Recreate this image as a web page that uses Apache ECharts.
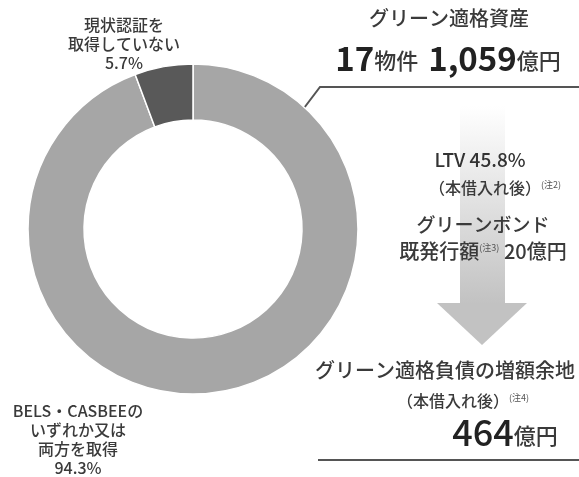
<!DOCTYPE html>
<html>
<head>
<meta charset="utf-8">
<script src="https://cdn.jsdelivr.net/npm/echarts@6/dist/echarts.min.js"></script>
<style>
  html, body { margin: 0; padding: 0; background: #fff; }
  #main { width: 579px; height: 477px; }
</style>
</head>
<body>
<div id="main"></div>
<script>
// donut data (share of green eligible assets)
var sliceNames = ['BELS・CASBEEの\nいずれか又は\n両方を取得', '現状認証を\n取得していない'];
var sliceValues = [94.3, 5.7];
var sliceColors = ['#a6a6a6', '#595959'];

// figures on the right
var propertyCount = 17;
var assetAmount = '1,059';
var ltv = 45.8;
var bondIssued = 20;
var debtHeadroom = 464;

var font = '"Noto Sans CJK JP", "Noto Sans", sans-serif';
var txt = '#3a3a3a';
var chart = echarts.init(document.getElementById('main'));

var pieData = sliceNames.map(function (n, i) {
  return { name: n, value: sliceValues[i], itemStyle: { color: sliceColors[i] } };
});

function note(str) {
  return '{s|' + str + '}';
}
var noteStyle = { fontSize: 9, fontFamily: font, fill: '#555', color: '#555', padding: [0, 0, 7, 0] };

var option = {
  backgroundColor: '#fff',
  animation: false,
  series: [{
    type: 'pie',
    center: [193, 229],
    radius: [109, 165],
    startAngle: 90,
    clockwise: true,
    itemStyle: { borderColor: '#fff', borderWidth: 1.5 },
    label: {
      show: true,
      position: 'outside',
      formatter: function (p) { return p.name + '\n' + p.value + '%'; },
      fontFamily: font,
      fontSize: 16,
      fontWeight: 500,
      lineHeight: 19,
      color: txt,
      align: 'center'
    },
    labelLine: { show: false },
    labelLayout: function (p) {
      if (p.dataIndex === 1) {
        return { x: 124, y: 44, align: 'center', verticalAlign: 'middle' };
      }
      return { x: 78, y: 439, align: 'center', verticalAlign: 'middle' };
    },
    data: pieData
  }],
  graphic: [
    // leader line from donut to the headline
    {
      type: 'polyline',
      shape: { points: [[298, 116], [320, 87], [579, 87]] },
      style: { stroke: '#555', lineWidth: 2, fill: null }
    },
    {
      type: 'text',
      style: {
        x: 449, y: 18, text: 'グリーン適格資産', align: 'center', verticalAlign: 'middle',
        font: '500 20px ' + font, fill: txt
      }
    },
    {
      type: 'text',
      style: {
        x: 448, y: 58, align: 'center', verticalAlign: 'middle',
        text: '{n|' + propertyCount + '}{u|物件}{g| }{n|' + assetAmount + '}{u|億円}',
        rich: {
          n: { fontSize: 33, fontWeight: 'bold', fontFamily: font, fill: '#222', color: '#222' },
          u: { fontSize: 22, fontWeight: 500, fontFamily: font, fill: txt, color: txt, padding: [6, 0, 0, 0] },
          g: { fontSize: 14, fontFamily: font, width: 10 }
        }
      }
    },
    // arrow shaft and head
    {
      type: 'rect',
      shape: { x: 460, y: 106, width: 45, height: 198 },
      style: {
        fill: new echarts.graphic.LinearGradient(0, 0, 0, 1, [
          { offset: 0, color: '#ffffff' },
          { offset: 1, color: '#c2c2c2' }
        ])
      }
    },
    {
      type: 'polygon',
      shape: { points: [[437, 303], [527, 303], [482, 345]] },
      style: { fill: '#c2c2c2' }
    },
    {
      type: 'text',
      style: {
        x: 480, y: 160, text: 'LTV ' + ltv + '%', align: 'center', verticalAlign: 'middle',
        font: '500 19px ' + font, fill: '#333'
      }
    },
    {
      type: 'text',
      style: {
        x: 495, y: 188, align: 'center', verticalAlign: 'middle',
        text: '{a|（本借入れ後）}' + note('(注2)'),
        rich: {
          a: { fontSize: 16, fontWeight: 500, fontFamily: font, fill: txt, color: txt },
          s: noteStyle
        }
      }
    },
    {
      type: 'text',
      style: {
        x: 483, y: 225, text: 'グリーンボンド', align: 'center', verticalAlign: 'middle',
        font: '500 19px ' + font, fill: txt
      }
    },
    {
      type: 'text',
      style: {
        x: 483, y: 251, align: 'center', verticalAlign: 'middle',
        text: '{a|既発行額}' + note('(注3)') + '{a| ' + bondIssued + '億円}',
        rich: {
          a: { fontSize: 20, fontWeight: 500, fontFamily: font, fill: txt, color: txt },
          s: noteStyle
        }
      }
    },
    {
      type: 'text',
      style: {
        x: 445, y: 370, text: 'グリーン適格負債の増額余地', align: 'center', verticalAlign: 'middle',
        font: '500 20px ' + font, fill: txt
      }
    },
    {
      type: 'text',
      style: {
        x: 463, y: 401, align: 'center', verticalAlign: 'middle',
        text: '{a|（本借入れ後）}' + note('(注4)'),
        rich: {
          a: { fontSize: 16, fontWeight: 500, fontFamily: font, fill: txt, color: txt },
          s: noteStyle
        }
      }
    },
    {
      type: 'text',
      style: {
        x: 505, y: 432, align: 'center', verticalAlign: 'middle',
        text: '{n|' + debtHeadroom + '}{u|億円}',
        rich: {
          n: { fontSize: 36, fontWeight: 500, fontFamily: font, fill: '#222', color: '#222' },
          u: { fontSize: 22, fontWeight: 500, fontFamily: font, fill: txt, color: txt, padding: [7, 0, 0, 0] }
        }
      }
    },
    {
      type: 'line',
      shape: { x1: 318, y1: 460, x2: 579, y2: 460 },
      style: { stroke: '#555', lineWidth: 2 }
    }
  ]
};

chart.setOption(option);
</script>
</body>
</html>
